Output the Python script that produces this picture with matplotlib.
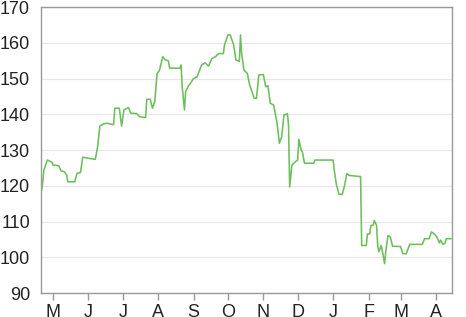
import numpy as np
import pandas as pd
import matplotlib
matplotlib.use('Agg')
from matplotlib import pyplot as plt
import matplotlib.dates as mdates

# days counted from 1 May
day = [-10, -9, -8, -5, -1, 0, 5, 7, 10, 12, 13, 19, 21, 24, 26, 31, 37, 39, 41, 44,
       47, 53, 54, 58, 60, 62, 66, 68, 73, 76, 81, 82, 85, 87, 89, 91, 93, 96, 98, 101,
       102, 111, 112, 113, 115, 116, 118, 123, 126, 130, 133, 136, 139, 142, 145, 149, 150, 153, 155, 158,
       160, 163, 164, 165, 167, 170, 172, 176, 178, 180, 184, 186, 188, 190, 193, 196, 198, 200, 202, 204,
       205, 206, 207, 209, 212, 214, 215, 217, 218, 220, 228, 229, 245, 246, 248, 249, 250, 253, 255, 257,
       259, 268, 269, 270, 274, 275, 277, 278, 280, 281, 283, 284, 285, 287, 288, 290, 291, 293, 295, 297,
       304, 306, 309, 312, 323, 325, 329, 331, 334, 336, 338, 339, 341, 343, 344, 348]
price = [118.8, 121.0, 124.4, 127.2, 126.6, 125.8, 125.6, 124.2, 123.9, 123.0, 121.1, 121.1, 123.5, 123.7, 128.0, 127.7, 127.4, 130.9, 136.7, 137.3,
         137.5, 137.1, 141.7, 141.7, 136.7, 141.2, 141.9, 140.3, 140.2, 139.3, 139.1, 144.2, 144.2, 141.7, 143.5, 151.4, 152.2, 156.1, 155.3, 154.9,
         152.9, 152.9, 153.8, 147.7, 141.2, 146.3, 147.7, 150.0, 150.5, 153.8, 154.4, 153.5, 155.6, 156.1, 157.0, 157.0, 159.4, 162.2, 162.2, 159.4,
         155.2, 154.8, 162.2, 157.0, 152.4, 151.4, 148.2, 144.5, 144.5, 151.0, 151.1, 147.7, 148.0, 143.1, 142.6, 137.5, 131.9, 133.7, 139.8, 140.0,
         140.2, 137.0, 119.7, 125.8, 126.7, 127.2, 133.0, 130.0, 129.6, 126.3, 126.3, 127.2, 127.2, 124.3, 120.1, 119.2, 117.6, 117.6, 120.1, 123.4,
         122.9, 122.6, 122.6, 103.3, 103.3, 106.5, 106.5, 108.9, 108.9, 110.3, 108.9, 103.3, 101.5, 103.3, 101.9, 98.2, 101.5, 106.1, 105.7, 103.1,
         103.0, 101.0, 101.0, 103.6, 103.6, 105.2, 105.2, 107.1, 106.4, 105.5, 104.0, 104.8, 103.6, 104.0, 105.2, 105.2]

start = pd.Timestamp('2013-05-01')
dates = [start + pd.Timedelta(days=d) for d in day]
month_labels = [t.strftime('%b')[0] for t in pd.date_range('2013-05-01', '2014-04-01', freq='MS')]

plt.rcParams['font.family'] = ['Liberation Sans', 'DejaVu Sans']

fig = plt.figure(figsize=(4.66, 3.17), dpi=100)
ax = fig.add_axes([0.088, 0.0757, 0.882, 0.902])

ax.plot(dates, price, color='#6cbf5c', linewidth=1.15)

ax.set_ylim(90, 170)
ax.set_yticks(np.arange(90, 171, 10))
ax.set_xlim(start + pd.Timedelta(days=-10.5), start + pd.Timedelta(days=349))
ax.xaxis.set_major_locator(mdates.MonthLocator())
ax.set_xticks(pd.date_range('2013-05-01', '2014-04-01', freq='MS'))
ax.set_xticklabels(month_labels)

ax.grid(axis='y', color='#e8e8e8', linewidth=0.9)
ax.set_axisbelow(True)
for s in ax.spines.values():
    s.set_color('#9a9a9a')
    s.set_linewidth(1.0)
ax.tick_params(axis='y', length=0, pad=8, labelsize=13, labelcolor='#222222')
ax.tick_params(axis='x', length=5, width=1, color='#9a9a9a', pad=3, labelsize=13, labelcolor='#222222')

fig.savefig('out.png', dpi=100)
